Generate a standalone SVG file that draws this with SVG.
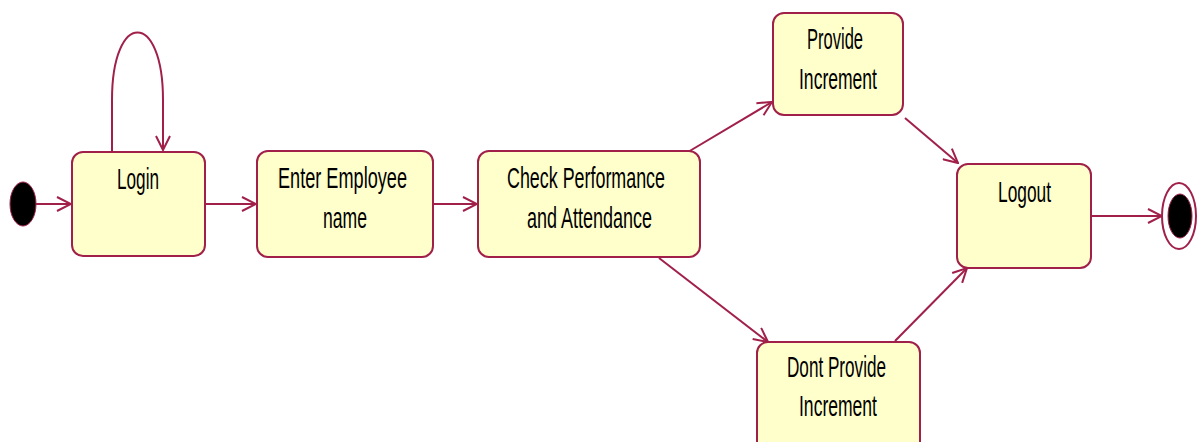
<svg xmlns="http://www.w3.org/2000/svg" width="1201" height="442" viewBox="0 0 1201 442">
<style>
.st{fill:#ffffcc;stroke:#a0204a;stroke-width:2}
.tx{font-family:"Liberation Sans",Arial,sans-serif;font-size:29px;fill:#000}
.cn{fill:none;stroke:#a0204a;stroke-width:2}
</style>
<defs>
<marker id="ar" markerUnits="userSpaceOnUse" markerWidth="16" markerHeight="16" viewBox="0 0 16 16" refX="15" refY="8" orient="auto">
<path d="M1,1 L15,8 L1,15" fill="none" stroke="#a0204a" stroke-width="2"/>
</marker>
</defs>
<rect width="1201" height="442" fill="#fff"/>
<g id="connectors">
<line class="cn" x1="36" y1="204" x2="71" y2="204" marker-end="url(#ar)"/>
<path class="cn" d="M112,151 L112,100 C112,10 163,10 163,100 L163,150" marker-end="url(#ar)"/>
<line class="cn" x1="205" y1="204" x2="256" y2="204" marker-end="url(#ar)"/>
<line class="cn" x1="433" y1="204" x2="477" y2="204" marker-end="url(#ar)"/>
<line class="cn" x1="688" y1="152" x2="772" y2="102" marker-end="url(#ar)"/>
<line class="cn" x1="905" y1="118" x2="958" y2="163" marker-end="url(#ar)"/>
<line class="cn" x1="659" y1="258" x2="768" y2="342" marker-end="url(#ar)"/>
<line class="cn" x1="895" y1="341" x2="967" y2="268" marker-end="url(#ar)"/>
<line class="cn" x1="1091" y1="216" x2="1162" y2="216" marker-end="url(#ar)"/>
</g>
<g id="start">
<ellipse cx="23" cy="204" rx="13" ry="22" fill="#000" stroke="#a0204a" stroke-width="1"/>
</g>
<g id="login">
<rect class="st" x="72" y="152" width="133" height="104" rx="11"/>
<text class="tx" x="117" y="189" textLength="42" lengthAdjust="spacingAndGlyphs">Login</text>
</g>
<g id="enter">
<rect class="st" x="257" y="151" width="176" height="106" rx="11"/>
<text class="tx" x="278" y="188" textLength="129" lengthAdjust="spacingAndGlyphs">Enter Employee</text>
<text class="tx" x="323" y="228" textLength="44" lengthAdjust="spacingAndGlyphs">name</text>
</g>
<g id="check">
<rect class="st" x="478" y="151" width="222" height="106" rx="11"/>
<text class="tx" x="507" y="188" textLength="158" lengthAdjust="spacingAndGlyphs">Check Performance</text>
<text class="tx" x="527" y="228" textLength="125" lengthAdjust="spacingAndGlyphs">and Attendance</text>
</g>
<g id="provide">
<rect class="st" x="773" y="13" width="130" height="102" rx="11"/>
<text class="tx" x="807" y="49" textLength="56" lengthAdjust="spacingAndGlyphs">Provide</text>
<text class="tx" x="799" y="89" textLength="78" lengthAdjust="spacingAndGlyphs">Increment</text>
</g>
<g id="dontprovide">
<rect class="st" x="757" y="342" width="163" height="110" rx="11"/>
<text class="tx" x="787" y="377" textLength="99" lengthAdjust="spacingAndGlyphs">Dont Provide</text>
<text class="tx" x="799" y="416" textLength="78" lengthAdjust="spacingAndGlyphs">Increment</text>
</g>
<g id="logout">
<rect class="st" x="957" y="164" width="134" height="104" rx="11"/>
<text class="tx" x="998" y="202" textLength="53" lengthAdjust="spacingAndGlyphs">Logout</text>
</g>
<g id="end">
<ellipse cx="1179" cy="216" rx="17" ry="33" fill="#fff" stroke="#a0204a" stroke-width="2"/>
<ellipse cx="1180" cy="216" rx="12" ry="22" fill="#000" stroke="#a0204a" stroke-width="1"/>
</g>
</svg>
